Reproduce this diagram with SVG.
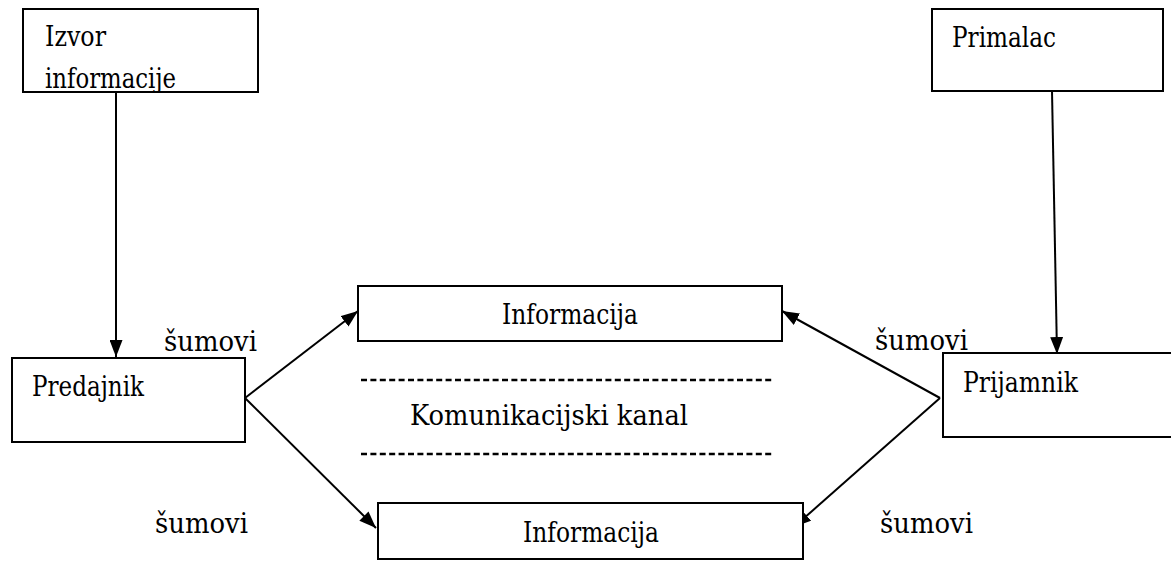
<svg xmlns="http://www.w3.org/2000/svg" width="1171" height="561" viewBox="0 0 1171 561">
  <style>
    .box { fill: #ffffff; stroke: #000000; stroke-width: 2; }
    .edge { fill: none; stroke: #000000; stroke-width: 2; }
    .dash { fill: none; stroke: #000000; stroke-width: 2.6; stroke-dasharray: 6 3.4; }
    text { font-family: "DejaVu Serif", "Liberation Serif", serif; font-size: 27px; fill: #000000; }
  </style>
  <defs>
    <marker id="arrow" viewBox="0 0 17 13" refX="17" refY="6.5" markerWidth="17" markerHeight="13" markerUnits="userSpaceOnUse" orient="auto">
      <path d="M0,0 L17,6.5 L0,13 Z" fill="#000000"/>
    </marker>
    <clipPath id="clip-izvor">
      <rect x="23" y="9" width="235" height="82"/>
    </clipPath>
  </defs>

  <rect width="1171" height="561" fill="#ffffff"/>

  <!-- connectors -->
  <g id="connectors">
    <line class="edge" x1="116" y1="92" x2="116" y2="357" marker-end="url(#arrow)"/>
    <line class="edge" x1="1052" y1="91" x2="1057" y2="354" marker-end="url(#arrow)"/>
    <line class="edge" x1="245" y1="398" x2="358" y2="311" marker-end="url(#arrow)"/>
    <line class="edge" x1="245" y1="398" x2="376" y2="528" marker-end="url(#arrow)"/>
    <line class="edge" x1="940" y1="398" x2="782" y2="311" marker-end="url(#arrow)"/>
    <line class="edge" x1="940" y1="398" x2="794" y2="527" marker-end="url(#arrow)"/>
  </g>

  <!-- source -->
  <g id="izvor">
    <rect class="box" x="23" y="9" width="235" height="83"/>
    <g clip-path="url(#clip-izvor)">
      <text x="45" y="46" textLength="61" lengthAdjust="spacingAndGlyphs">Izvor</text>
      <text x="45" y="88" textLength="131" lengthAdjust="spacingAndGlyphs">informacije</text>
    </g>
  </g>

  <!-- receiver end -->
  <g id="primalac">
    <rect class="box" x="932" y="9" width="231" height="82"/>
    <text x="952" y="47" textLength="104" lengthAdjust="spacingAndGlyphs">Primalac</text>
  </g>

  <!-- transmitter -->
  <g id="predajnik">
    <rect class="box" x="12" y="358" width="233" height="84"/>
    <text x="32" y="396" textLength="112" lengthAdjust="spacingAndGlyphs">Predajnik</text>
  </g>

  <!-- receiver -->
  <g id="prijamnik">
    <rect class="box" x="943" y="353" width="240" height="84"/>
    <text x="963" y="392" textLength="115" lengthAdjust="spacingAndGlyphs">Prijamnik</text>
  </g>

  <!-- information boxes -->
  <g id="informacija-gore">
    <rect class="box" x="358" y="286" width="424" height="55"/>
    <text x="502" y="324" textLength="136" lengthAdjust="spacingAndGlyphs">Informacija</text>
  </g>
  <g id="informacija-dolje">
    <rect class="box" x="378" y="503" width="425" height="56"/>
    <text x="523" y="542" textLength="136" lengthAdjust="spacingAndGlyphs">Informacija</text>
  </g>

  <!-- channel -->
  <g id="kanal">
    <line class="dash" x1="361" y1="380" x2="773" y2="380"/>
    <text x="410" y="425" textLength="278" lengthAdjust="spacingAndGlyphs">Komunikacijski kanal</text>
    <line class="dash" x1="361" y1="454" x2="773" y2="454"/>
  </g>

  <!-- noise labels -->
  <g id="sumovi">
    <text x="164" y="351" textLength="93" lengthAdjust="spacingAndGlyphs">šumovi</text>
    <text x="875" y="350" textLength="93" lengthAdjust="spacingAndGlyphs">šumovi</text>
    <text x="155" y="533" textLength="93" lengthAdjust="spacingAndGlyphs">šumovi</text>
    <text x="880" y="533" textLength="93" lengthAdjust="spacingAndGlyphs">šumovi</text>
  </g>
</svg>
